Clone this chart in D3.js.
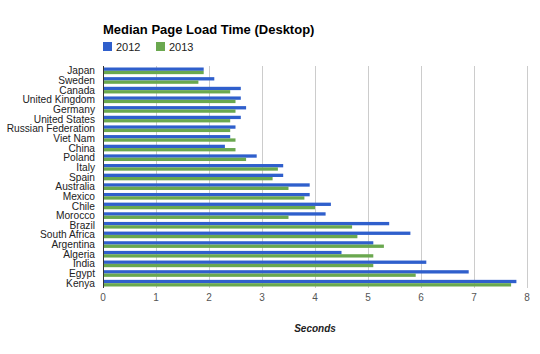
<!DOCTYPE html>
<html>
<head>
<meta charset="utf-8">
<script src="https://cdn.jsdelivr.net/npm/d3@7"></script>
<style>
  body { margin: 0; background: #fff; }
  text { font-family: Arial, "Liberation Sans", sans-serif; }
</style>
</head>
<body>
<script>
var w = 540, h = 354;

var countries = ["Japan", "Sweden", "Canada", "United Kingdom", "Germany", "United States",
  "Russian Federation", "Viet Nam", "China", "Poland", "Italy", "Spain", "Australia", "Mexico",
  "Chile", "Morocco", "Brazil", "South Africa", "Argentina", "Algeria", "India", "Egypt", "Kenya"];
var keys = ["2012", "2013"];
var values2012 = [1.9, 2.1, 2.6, 2.6, 2.7, 2.6, 2.5, 2.4, 2.3, 2.9, 3.4, 3.4, 3.9, 3.9, 4.3, 4.2, 5.4, 5.8, 5.1, 4.5, 6.1, 6.9, 7.8];
var values2013 = [1.9, 1.8, 2.4, 2.5, 2.5, 2.4, 2.4, 2.5, 2.5, 2.7, 3.3, 3.2, 3.5, 3.8, 4.0, 3.5, 4.7, 4.8, 5.3, 5.1, 5.1, 5.9, 7.7];
var xTicks = [0, 1, 2, 3, 4, 5, 6, 7, 8];

var data = countries.map(function(c, i) {
  return {country: c, "2012": values2012[i], "2013": values2013[i]};
});

var margin = {top: 66, left: 103},
    width = 424,
    height = 222;

var y0 = d3.scaleBand().domain(countries).range([0, height]).paddingInner(0).paddingOuter(0);
var y1 = d3.scaleBand().domain(keys).range([1.5, y0.bandwidth() - 1.5]);
var x = d3.scaleLinear().domain([0, 8]).range([0, width]);
var z = d3.scaleOrdinal().domain(keys).range(["#2f5fcc", "#6aa84f"]);

var svg = d3.select("body").append("svg").attr("width", w).attr("height", h);
var chart = svg.append("g").attr("transform", "translate(" + margin.left + "," + margin.top + ")");

// gridlines
chart.selectAll(".grid").data(xTicks.slice(1)).enter().append("line")
  .attr("x1", function(d) { return x(d) + 0.5; })
  .attr("x2", function(d) { return x(d) + 0.5; })
  .attr("y1", 0).attr("y2", height)
  .attr("stroke", "#cccccc").attr("stroke-width", 1);

// bars
chart.selectAll(".cat").data(data).enter().append("g")
  .attr("transform", function(d) { return "translate(0," + y0(d.country) + ")"; })
  .selectAll("rect")
  .data(function(d) { return keys.map(function(k) { return {key: k, value: d[k]}; }); })
  .enter().append("rect")
    .attr("x", 0)
    .attr("y", function(d) { return y1(d.key); })
    .attr("width", function(d) { return x(d.value); })
    .attr("height", y1.bandwidth())
    .attr("fill", function(d) { return z(d.key); });

// left axis line
chart.append("line")
  .attr("x1", 0.5).attr("x2", 0.5).attr("y1", 0).attr("y2", height)
  .attr("stroke", "#333").attr("stroke-width", 1);

// category labels
chart.selectAll(".lab").data(countries).enter().append("text")
  .attr("x", -8)
  .attr("y", function(d) { return y0(d) + y0.bandwidth() / 2; })
  .attr("dy", "0.35em")
  .attr("text-anchor", "end")
  .attr("font-size", 10.2)
  .attr("fill", "#222")
  .text(function(d) { return d; });

// x tick labels
chart.selectAll(".tick").data(xTicks).enter().append("text")
  .attr("x", function(d) { return x(d); })
  .attr("y", height + 13)
  .attr("text-anchor", "middle")
  .attr("font-size", 10)
  .attr("fill", "#555")
  .text(function(d) { return d; });

// axis title
svg.append("text")
  .attr("x", 315).attr("y", 332)
  .attr("text-anchor", "middle")
  .attr("font-size", 10)
  .attr("font-weight", "bold")
  .attr("font-style", "italic")
  .attr("fill", "#222")
  .text("Seconds");

// title
svg.append("text")
  .attr("x", 103).attr("y", 34)
  .attr("font-size", 13)
  .attr("font-weight", "bold")
  .attr("fill", "#000")
  .text("Median Page Load Time (Desktop)");

// legend
var legend = svg.selectAll(".legend").data(keys).enter().append("g")
  .attr("transform", function(d, i) { return "translate(" + (103 + i * 53) + ",42)"; });
legend.append("rect").attr("width", 9).attr("height", 9).attr("fill", function(d) { return z(d); });
legend.append("text").attr("x", 13).attr("y", 8.5)
  .attr("font-size", 11).attr("fill", "#222").text(function(d) { return d; });
</script>
</body>
</html>
